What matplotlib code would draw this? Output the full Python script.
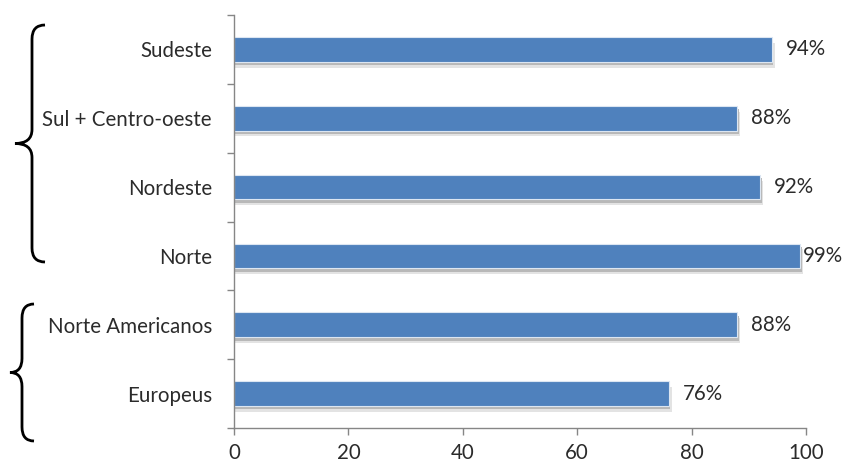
import matplotlib
matplotlib.use("Agg")
import matplotlib.pyplot as plt
from matplotlib.path import Path
from matplotlib.patches import PathPatch
import numpy as np

# Data (top to bottom)
categories = ["Sudeste", "Sul + Centro-oeste", "Nordeste", "Norte",
              "Norte Americanos", "Europeus"]
values = [94, 88, 92, 99, 88, 76]
x_ticks = [0, 20, 40, 60, 80, 100]

BAR_COLOR = "#4F81BD"
AXIS_COLOR = "#868686"
TEXT_COLOR = "#2b2b2b"
FS = 14.8

plt.rcParams['font.family'] = ['Lato', 'DejaVu Sans']

W, H = 843, 468
fig = plt.figure(figsize=(W / 100, H / 100), dpi=100)
ax = fig.add_axes([234 / W, 1 - 428 / H, (806 - 234) / W, (428 - 15) / H])

y = np.arange(len(categories))
bar_h = 0.36

# soft shadow behind the bars
vals = np.array(values)
ax.barh(y + 0.085, vals + 0.5, height=bar_h, color="#e3e3e3",
        edgecolor="none", zorder=1)
ax.barh(y + 0.05, vals + 0.3, height=bar_h, color="#b8b8b8",
        edgecolor="none", zorder=1)
ax.barh(y, values, height=bar_h, color=BAR_COLOR, edgecolor="#dce6f2",
        linewidth=0.8, zorder=2)

# value labels (kept inside the plot area at the right end)
for yi, v in zip(y, values):
    ax.text(min(v + 2.4, 99.4), yi, f"{v}%", va="center", ha="left",
            fontsize=FS, color=TEXT_COLOR, zorder=3)

ax.set_xlim(0, 100)
ax.set_ylim(len(categories) - 0.5, -0.5)

ax.set_xticks(x_ticks)
ax.set_xticklabels([str(t) for t in x_ticks], fontsize=FS, color=TEXT_COLOR)
ax.tick_params(axis="x", direction="out", length=5, width=1, color=AXIS_COLOR, pad=6)

# y ticks on category boundaries, labels at centers
ax.set_yticks(np.arange(-0.5, len(categories), 1.0))
ax.set_yticklabels([])
ax.set_yticks(y, minor=True)
ax.set_yticklabels(categories, minor=True, fontsize=FS, color=TEXT_COLOR)
ax.tick_params(axis="y", which="major", direction="out", length=5, width=1, color=AXIS_COLOR)
ax.tick_params(axis="y", which="minor", length=0, pad=16)

for s in ["top", "right"]:
    ax.spines[s].set_visible(False)
for s in ["left", "bottom"]:
    ax.spines[s].set_color(AXIS_COLOR)
    ax.spines[s].set_linewidth(1)


# curly braces drawn in figure pixel coordinates
def brace(x_end, x_spine, x_tip, y_top, y_bot, r=14):
    ym = (y_top + y_bot) / 2
    pts = [(x_end, y_top), (x_spine, y_top), (x_spine, y_top + r),
           (x_spine, ym - r),
           (x_spine, ym), (x_tip, ym),
           (x_spine, ym), (x_spine, ym + r),
           (x_spine, y_bot - r),
           (x_spine, y_bot), (x_end, y_bot)]
    codes = [Path.MOVETO, Path.CURVE3, Path.CURVE3,
             Path.LINETO,
             Path.CURVE3, Path.CURVE3,
             Path.CURVE3, Path.CURVE3,
             Path.LINETO,
             Path.CURVE3, Path.CURVE3]
    pts = [(px / W, 1 - py / H) for px, py in pts]
    fig.patches.append(PathPatch(Path(pts, codes), transform=fig.transFigure,
                                 fill=False, lw=2.0, color="black"))


brace(45, 32, 15, 25, 262)
brace(34, 22, 10, 304, 441)

fig.savefig("out.png", dpi=100)
